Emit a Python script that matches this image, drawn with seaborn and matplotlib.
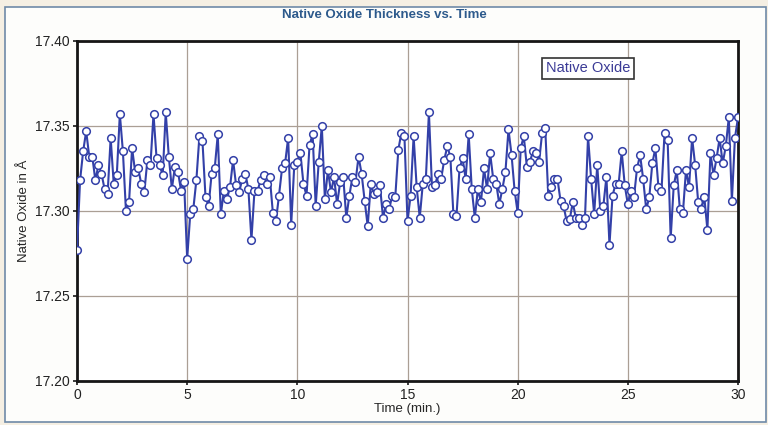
import numpy as np
import pandas as pd
import matplotlib
matplotlib.use("Agg")
import matplotlib.pyplot as plt
import seaborn as sns
from matplotlib.patches import Rectangle

sns.set_theme(style="white")
plt.rcParams['font.family'] = ['Liberation Sans Narrow', 'Liberation Sans', 'DejaVu Sans']

# thickness readings (Angstrom), evenly spaced over 30 minutes
thickness = [
    17.277, 17.318, 17.335, 17.347, 17.332, 17.332, 17.318, 17.327, 17.322, 17.313,
    17.310, 17.343, 17.316, 17.321, 17.357, 17.335, 17.300, 17.305, 17.337, 17.323,
    17.325, 17.316, 17.311, 17.330, 17.327, 17.357, 17.331, 17.327, 17.321, 17.358,
    17.332, 17.313, 17.326, 17.323, 17.312, 17.317, 17.272, 17.298,
    17.301, 17.318, 17.344, 17.341, 17.308, 17.303, 17.322, 17.325, 17.345, 17.298,
    17.312, 17.307, 17.314, 17.330, 17.315, 17.311, 17.319, 17.322, 17.313, 17.283,
    17.312, 17.312, 17.318, 17.321, 17.316, 17.320, 17.299, 17.294, 17.309, 17.325,
    17.328, 17.343, 17.292, 17.327, 17.329, 17.334, 17.316, 17.309,
    17.339, 17.345, 17.303, 17.329, 17.350, 17.307, 17.324, 17.311, 17.320, 17.304,
    17.317, 17.320, 17.296, 17.309, 17.320, 17.317, 17.332, 17.322, 17.306, 17.291,
    17.316, 17.310, 17.311, 17.315, 17.296, 17.304, 17.301, 17.309, 17.308, 17.336,
    17.346, 17.344, 17.294, 17.309, 17.344, 17.314, 17.296,
    17.316, 17.319, 17.358, 17.314, 17.315, 17.322, 17.319, 17.330, 17.338, 17.332,
    17.298, 17.297, 17.325, 17.331, 17.319, 17.345, 17.313, 17.296, 17.313, 17.305,
    17.325, 17.313, 17.334, 17.319, 17.316, 17.304, 17.313, 17.323, 17.348, 17.333,
    17.312, 17.299, 17.337, 17.344, 17.326, 17.329, 17.335,
    17.334, 17.329, 17.346, 17.349, 17.309, 17.314, 17.319, 17.319, 17.306, 17.303,
    17.294, 17.295, 17.305, 17.296, 17.296, 17.292, 17.296, 17.344, 17.319, 17.298,
    17.327, 17.300, 17.303, 17.320, 17.280, 17.309, 17.316, 17.316, 17.335, 17.315,
    17.304, 17.312, 17.308, 17.325, 17.333, 17.319, 17.301, 17.308, 17.328,
    17.337, 17.314, 17.312, 17.346, 17.342, 17.284, 17.315, 17.324, 17.301, 17.299,
    17.324, 17.314, 17.343, 17.327, 17.305, 17.301, 17.308, 17.289, 17.334, 17.321,
    17.331, 17.343, 17.328, 17.338, 17.355, 17.306, 17.343, 17.355,
]
time_min = np.linspace(0, 30, len(thickness))
df = pd.DataFrame({'Time': time_min, 'Thickness': thickness})

fig = plt.figure(figsize=(7.68, 4.25), dpi=100)
fig.patch.set_facecolor('#f5efe3')
# inner white panel, kept behind the axes
fig.patches.append(Rectangle((5 / 768, 3 / 425), 761 / 768, 415 / 425,
                             transform=fig.transFigure, facecolor='#fdfdfb',
                             edgecolor='#6f8aa8', linewidth=1.2, zorder=-10))

ax = fig.add_axes([77 / 768, 1 - 381 / 425, 661 / 768, 340 / 425])
ax.set_facecolor('white')

sns.lineplot(data=df, x='Time', y='Thickness', ax=ax, color='#3340a8',
             linewidth=1.5, marker='o', markersize=5.5, markerfacecolor='white',
             markeredgecolor='#3340a8', markeredgewidth=1.1, zorder=3)

ax.set_xlim(0, 30)
ax.set_ylim(17.20, 17.40)
ax.set_xticks(range(0, 31, 5))
ax.set_yticks([17.20, 17.25, 17.30, 17.35, 17.40])
ax.set_yticklabels(['17.20', '17.25', '17.30', '17.35', '17.40'])
ax.grid(True, color='#ab9f95', linewidth=0.9)
ax.tick_params(axis='both', labelsize=10, colors='#222222', length=3,
               direction='out', pad=2, bottom=True, left=True)
for s in ax.spines.values():
    s.set_color('#161616')
    s.set_linewidth(2.0)

ax.set_xlabel('Time (min.)', fontsize=9.5, labelpad=1)
ax.set_ylabel('Native Oxide in Å', fontsize=9.5, labelpad=4)
fig.text(0.5, 1 - 15 / 425, 'Native Oxide Thickness vs. Time', ha='center',
         va='center', fontsize=9.5, fontweight='bold', color='#2d5a8c')

ax.text(0.773, 0.92, 'Native Oxide', transform=ax.transAxes, fontsize=10.5,
        ha='center', va='center', color='#3b3b96',
        bbox=dict(boxstyle='square,pad=0.25', facecolor='white',
                  edgecolor='#333333', linewidth=1.2))

fig.savefig('out.png', dpi=100, facecolor=fig.get_facecolor())
